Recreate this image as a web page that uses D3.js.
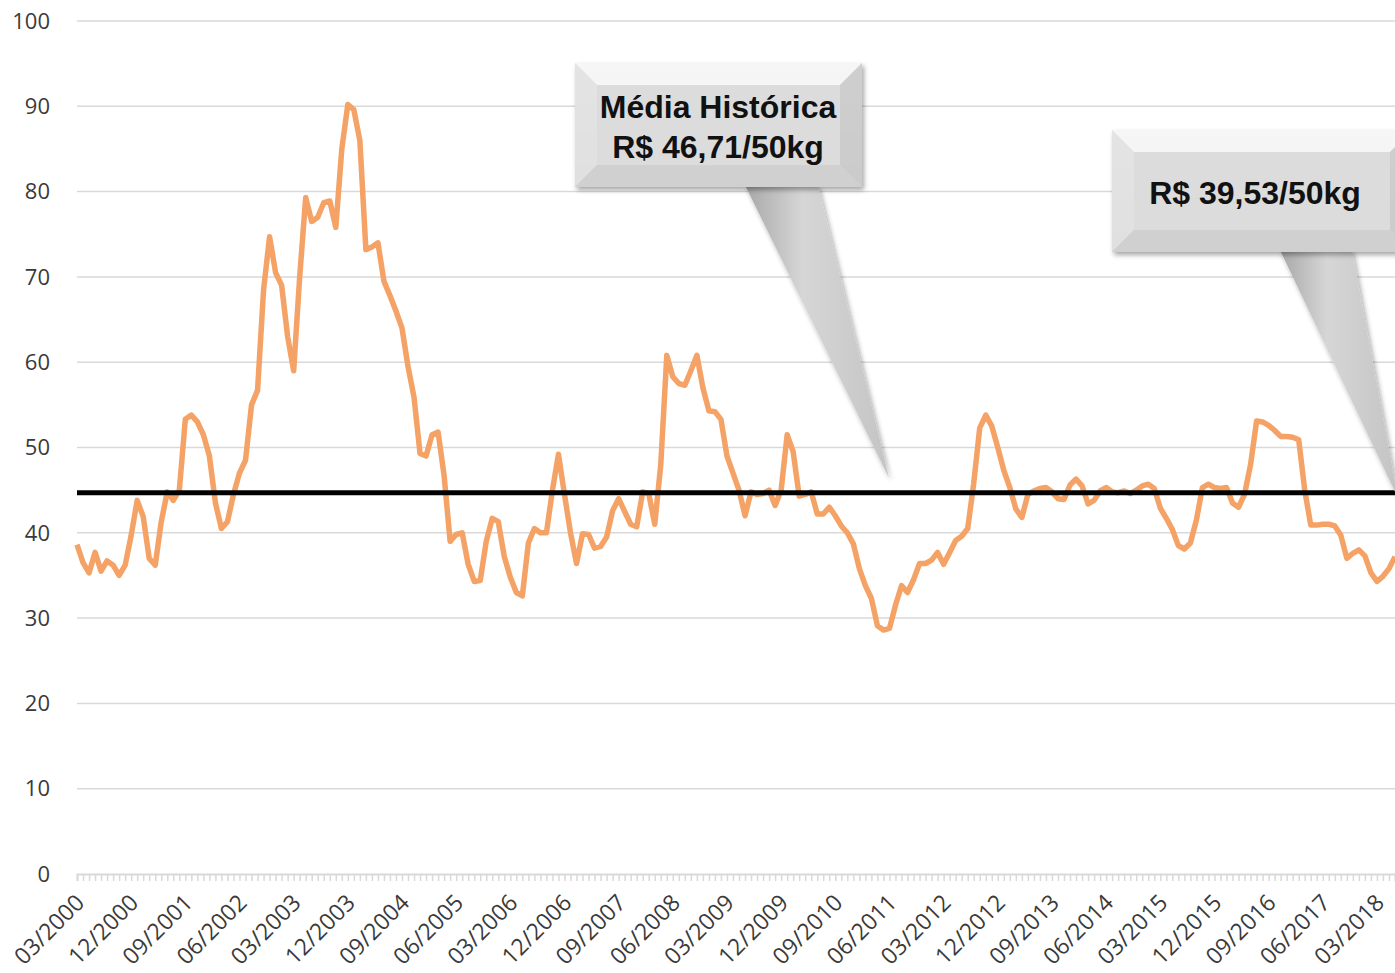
<!DOCTYPE html>
<html>
<head>
<meta charset="utf-8">
<script src="https://cdnjs.cloudflare.com/ajax/libs/d3/7.8.5/d3.min.js"></script>
<style>
  body { margin: 0; background: #fff; }
  svg { display: block; }
</style>
</head>
<body>
<script>
// monthly prices, R$/50kg, 03/2000 .. 06/2018
var startMonth = [2000, 3];
var values = [
  38.6, 36.5, 35.3, 37.7, 35.5, 36.7, 36.2, 35.0, 36.2, 39.7,
  43.8, 41.9, 37.0, 36.2, 41.3, 44.8, 43.8, 45.0, 53.3, 53.8,
  53.0, 51.5, 49.0, 43.5, 40.5, 41.3, 44.5, 47.0, 48.5, 55.0,
  56.7, 68.5, 74.7, 70.5, 69.0, 63.0, 59.0, 70.0, 79.3, 76.5,
  77.0, 78.7, 78.9, 75.8, 85.0, 90.2, 89.6, 86.0, 73.2, 73.5,
  74.0, 69.5, 67.8, 66.0, 64.0, 59.5, 55.9, 49.3, 49.0, 51.5,
  51.8, 46.7, 39.0, 39.8, 40.0, 36.3, 34.3, 34.4, 39.0, 41.7,
  41.3, 37.2, 34.8, 33.0, 32.6, 38.8, 40.5, 40.0, 40.0, 45.0,
  49.2, 44.5, 40.0, 36.4, 39.9, 39.8, 38.2, 38.4, 39.5, 42.6,
  44.0, 42.5, 41.0, 40.7, 44.8, 44.6, 41.0, 48.0, 60.8, 58.3,
  57.5, 57.3, 59.0, 60.8, 57.0, 54.3, 54.2, 53.3, 49.0, 47.0,
  45.0, 42.0, 44.8, 44.5, 44.6, 45.0, 43.2, 45.0, 51.5, 49.5,
  44.3, 44.5, 44.8, 42.2, 42.2, 43.0, 42.0, 40.8, 40.0, 38.7,
  35.8, 33.8, 32.3, 29.1, 28.6, 28.8, 31.5, 33.8, 33.0, 34.5,
  36.4, 36.4, 36.8, 37.7, 36.3, 37.7, 39.1, 39.6, 40.5, 45.8,
  52.3, 53.8, 52.5, 50.0, 47.3, 45.3, 42.8, 41.8, 44.5, 44.9,
  45.2, 45.3, 44.8, 44.0, 43.9, 45.6, 46.3, 45.5, 43.4, 43.8,
  44.9, 45.3, 44.8, 44.7, 44.9, 44.6, 45.0, 45.5, 45.7, 45.2,
  42.9, 41.7, 40.4, 38.5, 38.1, 38.8, 41.5, 45.3, 45.7, 45.3,
  45.2, 45.3, 43.5, 43.0, 44.5, 48.0, 53.1, 53.0, 52.6, 52.0,
  51.3, 51.3, 51.2, 50.9, 45.0, 40.9, 40.9, 41.0, 41.0, 40.8,
  39.7, 37.0, 37.6, 38.0, 37.3, 35.3, 34.3, 34.9, 35.8, 37.2
];
var averageLine = 44.7;
var yTicks = [0, 10, 20, 30, 40, 50, 60, 70, 80, 90, 100];
var labelEvery = 9;
var callout1 = ["Média Histórica", "R$ 46,71/50kg"];
var callout2 = ["R$ 39,53/50kg"];

var months = values.map(function(v, i) {
  var m = startMonth[1] - 1 + i;
  var yr = startMonth[0] + Math.floor(m / 12);
  var mm = (m % 12) + 1;
  return (mm < 10 ? "0" : "") + mm + "/" + yr;
});

var W = 1395, H = 973;
var plotLeft = 77, plotRight = 1395, plotTop = 21, plotBottom = 874;

var svg = d3.select("body").append("svg")
  .attr("width", W).attr("height", H);

var x = d3.scalePoint().domain(months).range([plotLeft, plotRight]);
var y = d3.scaleLinear().domain([0, 100]).range([plotBottom, plotTop]);

// grid
svg.append("g").selectAll("line")
  .data(yTicks.filter(function(d) { return d > 0; }))
  .enter().append("line")
  .attr("x1", plotLeft).attr("x2", plotRight)
  .attr("y1", function(d) { return y(d); })
  .attr("y2", function(d) { return y(d); })
  .attr("stroke", "#d9d9d9").attr("stroke-width", 1.5);

// y labels
svg.append("g").selectAll("text")
  .data(yTicks).enter().append("text")
  .attr("x", 50).attr("y", function(d) { return y(d); })
  .attr("dy", "0.35em")
  .attr("text-anchor", "end")
  .attr("font-family", "Open Sans, sans-serif")
  .attr("font-size", 22)
  .attr("fill", "#3a3a3a")
  .text(function(d) { return d; });

// x axis
var xAxis = d3.axisBottom(x)
  .tickSize(7)
  .tickFormat(function(d, i) { return i % labelEvery === 0 ? d : ""; });
var gx = svg.append("g")
  .attr("transform", "translate(0," + plotBottom + ")")
  .call(xAxis);
gx.select(".domain").attr("stroke", "#d9d9d9").attr("stroke-width", 2);
gx.selectAll(".tick line").attr("stroke", "#d9d9d9").attr("stroke-width", 1.5);
gx.selectAll(".tick text")
  .attr("font-family", "Open Sans, sans-serif")
  .attr("font-size", 23)
  .attr("fill", "#3a3a3a")
  .attr("text-anchor", "end")
  .attr("y", 0)
  .attr("dy", "0.75em")
  .attr("transform", "translate(-4,18) rotate(-45)");

// series
var line = d3.line()
  .x(function(d, i) { return x(months[i]); })
  .y(function(d) { return y(d); });
svg.append("path")
  .datum(values)
  .attr("d", line)
  .attr("fill", "none")
  .attr("stroke", "#f4a266")
  .attr("stroke-width", 5.5)
  .attr("stroke-linejoin", "round");

// average line
svg.append("line")
  .attr("x1", plotLeft).attr("x2", plotRight)
  .attr("y1", y(averageLine)).attr("y2", y(averageLine))
  .attr("stroke", "#000").attr("stroke-width", 5);

// callouts
var defs = svg.append("defs");
var pg = defs.append("linearGradient").attr("id", "ptr")
  .attr("x1", "0").attr("x2", "1").attr("y1", "0").attr("y2", "0");
pg.append("stop").attr("offset", "0").attr("stop-color", "#a8a8a8");
pg.append("stop").attr("offset", "0.4").attr("stop-color", "#d6d6d6");
pg.append("stop").attr("offset", "1").attr("stop-color", "#c4c4c4");
var bg = defs.append("linearGradient").attr("id", "box")
  .attr("x1", "0").attr("x2", "0").attr("y1", "0").attr("y2", "1");
bg.append("stop").attr("offset", "0").attr("stop-color", "#eeeeee");
bg.append("stop").attr("offset", "1").attr("stop-color", "#d4d4d4");
var sh = defs.append("filter").attr("id", "shadow")
  .attr("x", "-10%").attr("y", "-10%").attr("width", "130%").attr("height", "130%");
sh.append("feDropShadow").attr("dx", 2).attr("dy", 3).attr("stdDeviation", 2.5)
  .attr("flood-color", "#000").attr("flood-opacity", 0.35);

function callout(bx, by, bw, bh, p1, p2, tip, lines, tx, ty0, lh) {
  var g = svg.append("g");
  g.append("polygon")
    .attr("points", [[p1, by + bh - 2], [p2, by + bh - 2], tip].join(" "))
    .attr("fill", "url(#ptr)")
    .attr("filter", "url(#shadow)");
  g.append("rect")
    .attr("x", bx).attr("y", by).attr("width", bw).attr("height", bh)
    .attr("fill", "url(#box)")
    .attr("filter", "url(#shadow)");
  var b = 22;
  var bevel = [
    { pts: [[bx, by], [bx + bw, by], [bx + bw - b, by + b], [bx + b, by + b]], c: "#f7f7f7" },
    { pts: [[bx, by], [bx + b, by + b], [bx + b, by + bh - b], [bx, by + bh]], c: "#e2e2e2" },
    { pts: [[bx + bw, by], [bx + bw, by + bh], [bx + bw - b, by + bh - b], [bx + bw - b, by + b]], c: "#c9c9c9" },
    { pts: [[bx, by + bh], [bx + b, by + bh - b], [bx + bw - b, by + bh - b], [bx + bw, by + bh]], c: "#cfcfcf" }
  ];
  g.selectAll("polygon.bev").data(bevel).enter().append("polygon")
    .attr("class", "bev")
    .attr("points", function(d) { return d.pts.join(" "); })
    .attr("fill", function(d) { return d.c; })
    .attr("opacity", 0.85);
  g.append("rect")
    .attr("x", bx + b).attr("y", by + b).attr("width", bw - 2 * b).attr("height", bh - 2 * b)
    .attr("fill", "#dcdcdc");
  g.selectAll("text").data(lines).enter().append("text")
    .attr("x", tx).attr("y", function(d, i) { return ty0 + i * lh; })
    .attr("text-anchor", "middle")
    .attr("font-family", "Liberation Sans, Arial, sans-serif")
    .attr("font-weight", "bold")
    .attr("font-size", 32)
    .attr("fill", "#111")
    .text(function(d) { return d; });
}

callout(575, 63, 287, 124, 745, 818, [889, 478], callout1, 718, 118, 40);
callout(1112, 130, 300, 122, 1280, 1352, [1398, 498], callout2, 1255, 204, 40);
</script>
</body>
</html>
